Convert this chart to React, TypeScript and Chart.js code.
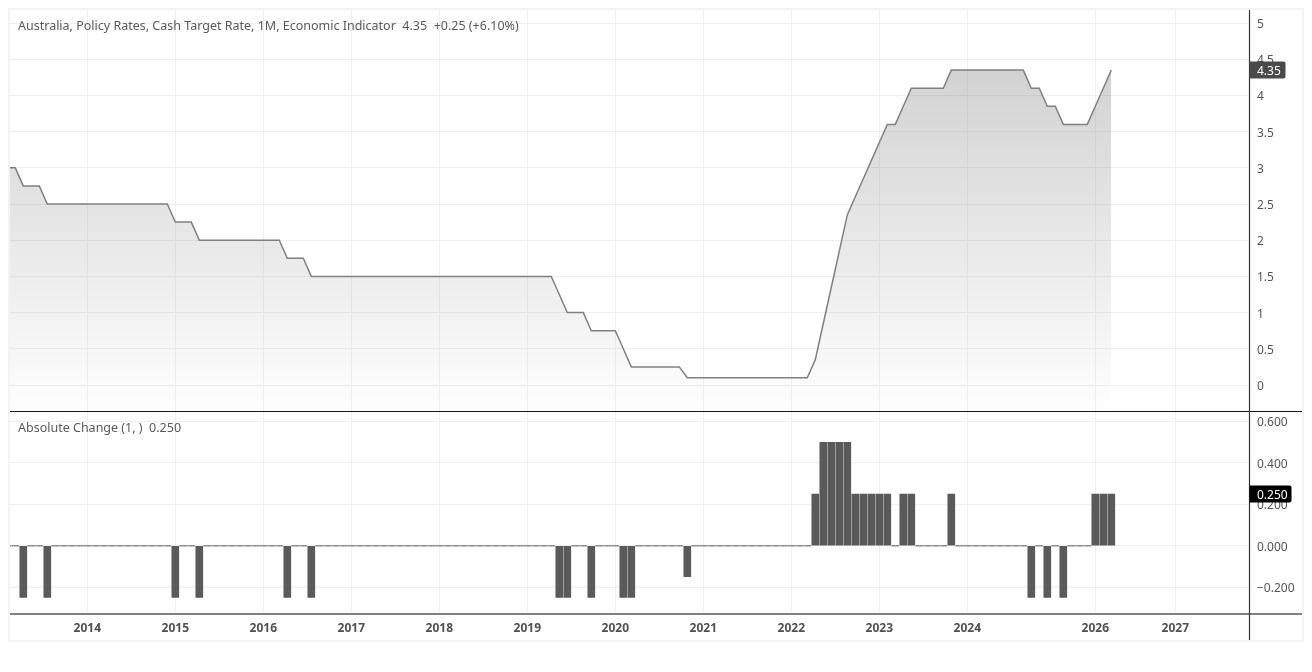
import React, { useEffect, useRef } from "react";
import { Chart, registerables } from "chart.js";

Chart.register(...registerables);

const rates = [
  3, 3,
  2.75, 2.75, 2.75, 2.5, 2.5, 2.5, 2.5, 2.5, 2.5, 2.5, 2.5, 2.5, 2.5, 2.5, 2.5, 2.5, 2.5, 2.5, 2.5,
  2.25, 2.25, 2.25, 2, 2, 2, 2, 2, 2, 2, 2, 2, 2, 2,
  1.75, 1.75, 1.75, 1.5, 1.5, 1.5, 1.5, 1.5, 1.5, 1.5, 1.5, 1.5, 1.5, 1.5,
  1.5, 1.5, 1.5, 1.5, 1.5, 1.5, 1.5, 1.5, 1.5, 1.5, 1.5, 1.5, 1.5, 1.5, 1.5, 1.5, 1.5, 1.5, 1.5, 1.5,
  1.25, 1, 1, 1, 0.75, 0.75, 0.75, 0.75, 0.5, 0.25, 0.25, 0.25, 0.25, 0.25, 0.25, 0.25,
  0.1, 0.1, 0.1, 0.1, 0.1, 0.1, 0.1, 0.1, 0.1, 0.1, 0.1, 0.1, 0.1, 0.1, 0.1, 0.1,
  0.35, 0.85, 1.35, 1.85, 2.35, 2.6, 2.85, 3.1, 3.35, 3.6, 3.6, 3.85, 4.1, 4.1, 4.1, 4.1, 4.1,
  4.35, 4.35, 4.35, 4.35, 4.35, 4.35, 4.35, 4.35, 4.35, 4.35,
  4.1, 4.1, 3.85, 3.85, 3.6, 3.6, 3.6, 3.6, 3.85, 4.1, 4.35,
];

const changes = [
  0, 0,
  -0.25, 0, 0, -0.25, 0, 0, 0, 0, 0, 0, 0, 0, 0, 0, 0, 0, 0, 0, 0,
  -0.25, 0, 0, -0.25, 0, 0, 0, 0, 0, 0, 0, 0, 0, 0,
  -0.25, 0, 0, -0.25, 0, 0, 0, 0, 0, 0, 0, 0, 0, 0,
  0, 0, 0, 0, 0, 0, 0, 0, 0, 0, 0, 0, 0, 0, 0, 0, 0, 0, 0, 0,
  -0.25, -0.25, 0, 0, -0.25, 0, 0, 0, -0.25, -0.25, 0, 0, 0, 0, 0, 0,
  -0.15, 0, 0, 0, 0, 0, 0, 0, 0, 0, 0, 0, 0, 0, 0, 0,
  0.25, 0.5, 0.5, 0.5, 0.5, 0.25, 0.25, 0.25, 0.25, 0.25, 0, 0.25, 0.25, 0, 0, 0, 0,
  0.25, 0, 0, 0, 0, 0, 0, 0, 0, 0,
  -0.25, 0, -0.25, 0, -0.25, 0, 0, 0, 0.25, 0.25, 0.25,
];

const firstIndex = -2;
const yearLabels = ["2014", "2015", "2016", "2017", "2018", "2019", "2020", "2021", "2022", "2023", "2024", "2026", "2027"];
const yearIndexes = [8, 19, 30, 41, 52, 63, 74, 85, 96, 107, 118, 134, 144];

const legendTop = "Australia, Policy Rates, Cash Target Rate, 1M, Economic Indicator  4.35  +0.25 (+6.10%)";
const legendBottom = "Absolute Change (1, )  0.250";
const lastRateLabel = "4.35";
const lastChangeLabel = "0.250";

const FONT = '"Noto Sans", sans-serif';
const GRID = "#f0f0f0";

const overlay = {
  id: "overlay",
  beforeDraw(chart: any) {
    const { ctx } = chart;
    ctx.save();
    ctx.fillStyle = "#ffffff";
    ctx.fillRect(0, 0, chart.width, chart.height);
    ctx.strokeStyle = "#f4f4f4";
    ctx.lineWidth = 2;
    ctx.strokeRect(9, 9, 1294, 632);
    ctx.restore();
  },
  afterDraw(chart: any) {
    const { ctx, chartArea, scales } = chart;
    const divider = Math.round(scales.yTop.bottom) + 0.5;
    const base = Math.round(scales.yBot.bottom);
    const axisX = Math.round(chartArea.right) - 0.5;
    const rightEdge = 1302;
    ctx.save();
    ctx.strokeStyle = "#111111";
    ctx.lineWidth = 1;
    ctx.beginPath();
    ctx.moveTo(chartArea.left, divider);
    ctx.lineTo(rightEdge, divider);
    ctx.stroke();
    ctx.strokeStyle = "#808080";
    ctx.lineWidth = 2;
    ctx.beginPath();
    ctx.moveTo(chartArea.left, base);
    ctx.lineTo(rightEdge, base);
    ctx.stroke();
    ctx.strokeStyle = "#333333";
    ctx.lineWidth = 1.2;
    ctx.beginPath();
    ctx.moveTo(axisX, chartArea.top);
    ctx.lineTo(axisX, 640);
    ctx.stroke();

    ctx.textBaseline = "middle";
    ctx.textAlign = "left";
    ctx.font = `12.5px ${FONT}`;
    ctx.fillStyle = "#5a5a5a";
    ctx.fillText(legendTop, 18, 26);
    ctx.fillText(legendBottom, 18, 428);

    // value-axis labels, taken from the library's own scales and ticks
    ctx.font = `12px ${FONT}`;
    ctx.fillStyle = "#555555";
    for (const scale of [scales.yTop, scales.yBot]) {
      scale.ticks.forEach((t: any) => {
        const label = scale.id === "yTop"
          ? String(Number(t.value))
          : (t.value < 0 ? "\u2212" : "") + Math.abs(t.value).toFixed(3);
        ctx.fillText(label, axisX + 7.5, scale.getPixelForValue(t.value) + 1.5);
      });
    }

    const tag = (value: number, scale: any, label: string, color: string, w: number) => {
      const y = scale.getPixelForValue(value);
      ctx.fillStyle = color;
      ctx.beginPath();
      ctx.roundRect(axisX, y - 8.5, w, 17, [0, 2, 2, 0]);
      ctx.fill();
      ctx.fillStyle = "#ffffff";
      ctx.font = `12px ${FONT}`;
      ctx.fillText(label, axisX + 7.5, y + 1.5);
    };
    tag(rates[rates.length - 1], scales.yTop, lastRateLabel, "#4a4a4a", 36);
    tag(changes[changes.length - 1], scales.yBot, lastChangeLabel, "#000000", 42);
    ctx.restore();
  },
};

export default function App() {
  const ref = useRef<HTMLCanvasElement>(null);
  useEffect(() => {
    const zeroPad = (s: any) => {
      s.paddingTop = 0;
      s.paddingBottom = 0;
      s.paddingLeft = 0;
      s.paddingRight = 0;
    };
    const fixWidth = (s: any) => {
      s.width = 52.5;
      zeroPad(s);
    };
    const chart = new Chart(ref.current as HTMLCanvasElement, {
      type: "line",
      plugins: [overlay],
      data: {
        datasets: [
          {
            type: "line",
            yAxisID: "yTop",
            data: rates.map((y, i) => ({ x: firstIndex + i, y })),
            borderColor: "#808080",
            borderWidth: 1.5,
            pointRadius: 0,
            tension: 0,
            fill: "start",
            backgroundColor: (c: any) => {
              const a = c.chart.chartArea;
              const s = c.chart.scales.yTop;
              if (!a || !s) return "rgba(100,100,100,0.25)";
              const g = c.chart.ctx.createLinearGradient(0, s.getPixelForValue(4.35), 0, s.bottom);
              g.addColorStop(0, "rgba(90,90,90,0.27)");
              g.addColorStop(1, "rgba(90,90,90,0.005)");
              return g;
            },
          },
          {
            type: "bar",
            yAxisID: "yBot",
            data: changes.map((y, i) => ({ x: firstIndex + i, y })),
            backgroundColor: changes.map((v) => (v === 0 ? "#8c8c8c" : "#5a5a5a")),
            barThickness: 7,
            minBarLength: 1,
            borderWidth: 0,
          },
        ] as any,
      },
      options: {
        responsive: false,
        animation: false,
        events: [],
        layout: { padding: { left: 10, top: 10, right: 10, bottom: 32 } },
        plugins: { legend: { display: false }, tooltip: { enabled: false }, title: { display: false } },
        scales: {
          x: {
            type: "linear",
            min: -1.6625,
            max: 153.275,
            offset: false,
            afterFit: (s: any) => {
              s.height = 26;
              zeroPad(s);
            },
            afterBuildTicks: (s: any) => { s.ticks = yearIndexes.map((value) => ({ value })); },
            grid: { color: GRID, drawTicks: false, lineWidth: 1, offset: false },
            border: { display: false },
            ticks: {
              autoSkip: false,
              maxRotation: 0,
              padding: 7,
              color: "#505050",
              font: { family: FONT, size: 12, weight: "bold" },
              callback: (v: any) => yearLabels[yearIndexes.indexOf(Number(v))] ?? "",
            },
          },
          yTop: {
            type: "linear",
            position: "right",
            stack: "panes",
            stackWeight: 401,
            min: -0.359,
            max: 5.18,
            afterFit: fixWidth,
            grid: { color: GRID, drawTicks: false },
            border: { display: false },
            ticks: { stepSize: 0.5, includeBounds: false, display: false },
          },
          yBot: {
            type: "linear",
            position: "right",
            stack: "panes",
            stackWeight: 203,
            min: -0.33,
            max: 0.651,
            afterFit: fixWidth,
            grid: { color: GRID, drawTicks: false },
            border: { display: false },
            ticks: { stepSize: 0.2, includeBounds: false, display: false },
          },
        },
      } as any,
    });
    return () => chart.destroy();
  }, []);
  return (
    <div style={{ position: "fixed", left: 0, top: 0, width: 1312, height: 672, background: "#fff" }}>
      <canvas ref={ref} width={1312} height={672} style={{ display: "block" }} />
    </div>
  );
}
